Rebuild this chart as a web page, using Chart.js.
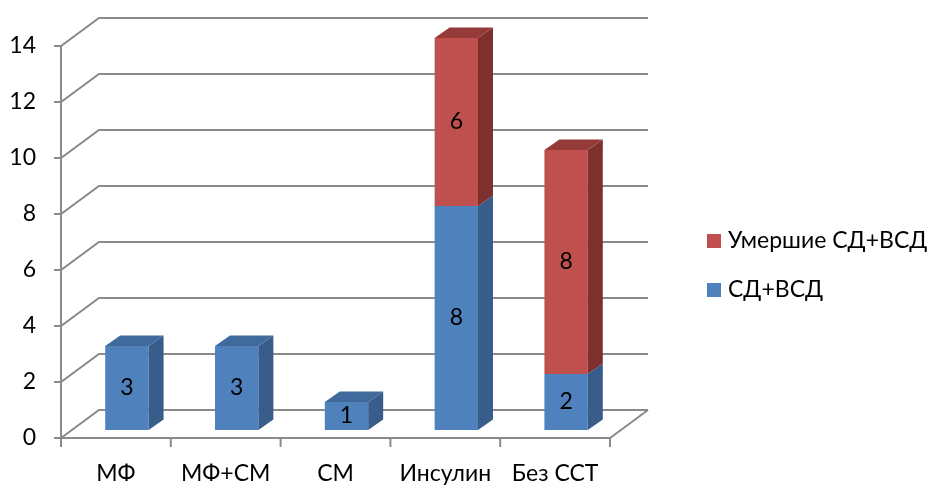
<!DOCTYPE html>
<html>
<head>
<meta charset="utf-8">
<script src="https://cdn.jsdelivr.net/npm/chart.js@4.4.1/dist/chart.umd.min.js"></script>
<style>
  body { margin: 0; background: #fff; }
  #wrap { width: 933px; height: 485px; }
</style>
</head>
<body>
<div id="wrap"><canvas id="graph-3d" width="933" height="485"></canvas></div>
<script>
var categories = ["МФ", "МФ+СМ", "СМ", "Инсулин", "Без ССТ"];
var aliveValues = [3, 3, 1, 8, 2];     // СД+ВСД
var deadValues = [0, 0, 0, 6, 8];      // Умершие СД+ВСД
var yTicks = [0, 2, 4, 6, 8, 10, 12, 14];

var FONT = "Lato";
var gridColor = "#8a8a8a";
// offsets of the front and back planes from the bar plane
var front = { x: -11, y: 8 };
var back = { x: 27, y: -20 };
var depth = { x: 15, y: -10.5 };

var faceColors = {
    "#4f81bd": { side: "#385d8a", top: "#416a9c" },
    "#c0504d": { side: "#7d302e", top: "#953a38" }
};

// walls, floor and axes behind the bars
var walls = {
    id: "walls",
    beforeDatasetsDraw: function (chart) {
        var ctx = chart.ctx, ys = chart.scales.y;
        var L = chart.chartArea.left, R = chart.chartArea.right;
        var y0 = ys.getPixelForValue(0), yTop = ys.getPixelForValue(yTicks[yTicks.length - 1]);
        ctx.save();
        ctx.strokeStyle = gridColor;
        ctx.lineWidth = 2;
        yTicks.forEach(function (v) {
            var y = ys.getPixelForValue(v);
            ctx.beginPath();
            ctx.moveTo(L + front.x - 7, y + front.y);
            ctx.lineTo(L + front.x, y + front.y);
            ctx.lineTo(L + back.x, y + back.y);
            ctx.lineTo(R + back.x, y + back.y);
            ctx.stroke();
        });
        // front vertical axis
        ctx.beginPath();
        ctx.moveTo(L + front.x, yTop + front.y);
        ctx.lineTo(L + front.x, y0 + front.y + 8);
        ctx.stroke();
        // floor front and right edges
        ctx.beginPath();
        ctx.moveTo(L + front.x, y0 + front.y);
        ctx.lineTo(R + front.x, y0 + front.y);
        ctx.lineTo(R + back.x, y0 + back.y);
        ctx.stroke();
        // category ticks
        var w = (R - L) / categories.length;
        for (var i = 0; i <= categories.length; i++) {
            var x = L + front.x + i * w;
            ctx.beginPath();
            ctx.moveTo(x, y0 + front.y);
            ctx.lineTo(x, y0 + front.y + 9);
            ctx.stroke();
        }
        ctx.restore();
    },
    afterDatasetsDraw: function (chart) {
        var ctx = chart.ctx;
        var metas = chart.data.datasets.map(function (d, i) { return chart.getDatasetMeta(i); });
        ctx.save();
        categories.forEach(function (c, j) {
            metas.forEach(function (meta, i) {
                var ds = chart.data.datasets[i];
                var val = ds.data[j];
                if (!val) return;
                var bar = meta.data[j];
                var half = bar.width / 2;
                var left = bar.x - half, right = bar.x + half;
                var top = Math.min(bar.y, bar.base), bottom = Math.max(bar.y, bar.base);
                var col = faceColors[ds.backgroundColor];
                // side face
                ctx.fillStyle = col.side;
                ctx.beginPath();
                ctx.moveTo(right, bottom);
                ctx.lineTo(right, top);
                ctx.lineTo(right + depth.x, top + depth.y);
                ctx.lineTo(right + depth.x, bottom + depth.y);
                ctx.closePath();
                ctx.fill();
                // top face only on the highest segment
                var above = chart.data.datasets.slice(i + 1).some(function (d) { return d.data[j]; });
                if (!above) {
                    ctx.fillStyle = col.top;
                    ctx.beginPath();
                    ctx.moveTo(left, top);
                    ctx.lineTo(right, top);
                    ctx.lineTo(right + depth.x, top + depth.y);
                    ctx.lineTo(left + depth.x, top + depth.y);
                    ctx.closePath();
                    ctx.fill();
                }
                // value label
                ctx.fillStyle = "#000";
                ctx.font = "23px " + FONT;
                ctx.textAlign = "center";
                ctx.textBaseline = "middle";
                ctx.fillText(String(val), bar.x, (top + bottom) / 2);
            });
        });
        ctx.restore();
    },
    afterDraw: function (chart) {
        // legend, top entry is the upper series
        var ctx = chart.ctx;
        var items = chart.data.datasets.slice().reverse();
        ctx.save();
        ctx.font = "23px " + FONT;
        ctx.textAlign = "left";
        ctx.textBaseline = "middle";
        items.forEach(function (ds, k) {
            var cy = 241 + k * 49;
            ctx.fillStyle = ds.backgroundColor;
            ctx.fillRect(707, cy - 7, 14, 14);
            ctx.fillStyle = "#000";
            ctx.fillText(ds.label, 728, cy);
        });
        ctx.restore();
    }
};

new Chart("graph-3d", {
    type: "bar",
    data: {
        labels: categories,
        datasets: [{
            label: "СД+ВСД",
            data: aliveValues,
            backgroundColor: "#4f81bd",
            borderWidth: 0
        }, {
            label: "Умершие СД+ВСД",
            data: deadValues,
            backgroundColor: "#c0504d",
            borderWidth: 0
        }]
    },
    options: {
        responsive: false,
        animation: false,
        layout: { padding: { top: 38, right: 312, left: 0, bottom: 0 } },
        datasets: { bar: { categoryPercentage: 1, barPercentage: 0.395 } },
        plugins: { legend: { display: false }, tooltip: { enabled: false } },
        scales: {
            x: {
                stacked: true,
                grid: { display: false, drawTicks: false },
                border: { display: false },
                ticks: { color: "#000", font: { family: FONT, size: 23 }, padding: 30, labelOffset: front.x, maxRotation: 0 },
                afterFit: function (s) { s.height = 55; }
            },
            y: {
                stacked: true,
                min: 0, max: 14,
                grid: { display: false, drawTicks: false },
                border: { display: false },
                ticks: { stepSize: 2, color: "#000", font: { family: FONT, size: 23 }, padding: 36, labelOffset: front.y },
                afterFit: function (s) { s.width = 72; s.paddingTop = 0; s.paddingBottom = 0; }
            }
        }
    },
    plugins: [walls]
});
</script>
</body>
</html>
